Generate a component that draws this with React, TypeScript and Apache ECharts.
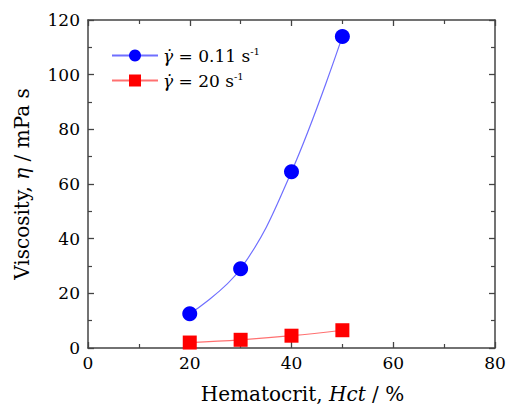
import React, { useEffect, useRef } from "react";
import * as echarts from "echarts";

const hct = [20, 30, 40, 50];
const viscLow = [12.5, 29, 64.5, 114];
const viscHigh = [2, 3, 4.5, 6.5];
const seriesNames = ["low", "high"];
const legendRates = { low: "0.11", high: "20" } as Record<string, string>;

const FONT = "DejaVu Serif";
const AXIS_COLOR = "#444";

export default function App() {
  const ref = useRef<HTMLDivElement>(null);
  useEffect(() => {
    if (!ref.current) return;
    const chart = echarts.init(ref.current, null, { renderer: "svg" });
    const axisCommon = {
      axisLine: { show: true, onZero: false, lineStyle: { color: AXIS_COLOR, width: 1.5 } },
      axisTick: { show: true, inside: true, length: 6, lineStyle: { color: AXIS_COLOR, width: 1.3 } },
      minorTick: { show: true, splitNumber: 2, length: 4, lineStyle: { color: AXIS_COLOR, width: 1.2 } },
      splitLine: { show: false },
    };
    const rich = {
      g: { fontFamily: FONT, fontStyle: "italic" as const, fontSize: 17, color: "#000" },
      t: { fontFamily: FONT, fontSize: 17, color: "#000" },
      sup: { fontFamily: FONT, fontSize: 10, color: "#000", padding: [0, 0, 9, 0] },
    };
    chart.setOption({
      animation: false,
      backgroundColor: "#fff",
      textStyle: { fontFamily: FONT },
      grid: { left: 88, right: 12, top: 20, bottom: 65, outerBoundsMode: "none", containLabel: false },
      legend: {
        left: 106,
        top: 41,
        orient: "vertical",
        itemWidth: 46,
        itemHeight: 15,
        itemGap: 7,
        data: seriesNames,
        formatter: (name: string) => `{g|γ̇}{t| = ${legendRates[name]} s}{sup|-1}`,
        textStyle: { fontFamily: FONT, fontSize: 17, rich },
      },
      xAxis: [
        {
          type: "value",
          min: 0,
          max: 80,
          interval: 20,
          position: "bottom",
          name: "Hematocrit, {i|Hct} / %",
          nameLocation: "middle",
          nameGap: 36,
          nameTextStyle: {
            fontFamily: FONT,
            fontSize: 20,
            color: "#000",
            padding: [0, 0, 0, 22],
            rich: { i: { fontFamily: FONT, fontSize: 20, fontStyle: "italic", color: "#000" } },
          },
          axisLabel: { fontFamily: FONT, fontSize: 17, color: "#000", margin: 6 },
          ...axisCommon,
        },
        {
          type: "value",
          min: 0,
          max: 80,
          interval: 20,
          position: "top",
          axisLabel: { show: false },
          ...axisCommon,
        },
      ],
      yAxis: [
        {
          type: "value",
          min: 0,
          max: 120,
          interval: 20,
          position: "left",
          name: "Viscosity, {i|η} / mPa s",
          nameLocation: "middle",
          nameGap: 56,
          nameTextStyle: {
            fontFamily: FONT,
            fontSize: 20,
            color: "#000",
            rich: { i: { fontFamily: FONT, fontSize: 20, fontStyle: "italic", color: "#000" } },
          },
          axisLabel: { fontFamily: FONT, fontSize: 17, color: "#000", margin: 8 },
          ...axisCommon,
        },
        {
          type: "value",
          min: 0,
          max: 120,
          interval: 20,
          position: "right",
          axisLabel: { show: false },
          ...axisCommon,
        },
      ],
      series: [
        {
          name: "low",
          type: "line",
          data: hct.map((x, i) => [x, viscLow[i]]),
          smooth: 0.4,
          symbol: "circle",
          symbolSize: 15,
          itemStyle: { color: "#0000ff" },
          lineStyle: { color: "#6f6fff", width: 1.2 },
        },
        {
          name: "high",
          type: "line",
          data: hct.map((x, i) => [x, viscHigh[i]]),
          smooth: 0.4,
          symbol: "rect",
          symbolSize: 14,
          itemStyle: { color: "#ff0000" },
          lineStyle: { color: "#ff7070", width: 1.2 },
        },
      ],
    });
    return () => chart.dispose();
  }, []);
  return <div ref={ref} style={{ width: 507, height: 413, position: "absolute", left: 0, top: 0 }} />;
}
